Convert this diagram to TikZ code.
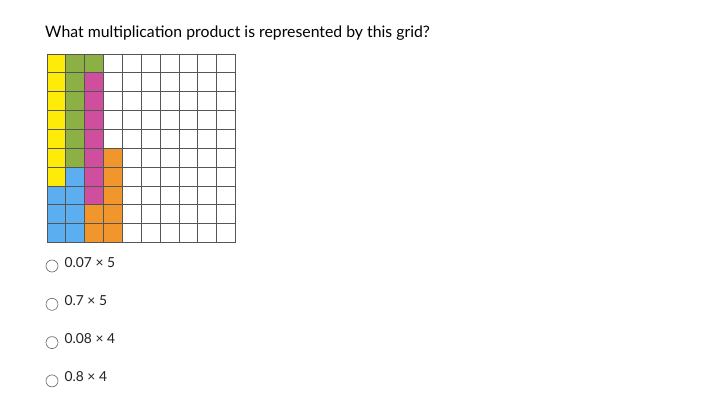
\documentclass[tikz,border=0pt]{standalone}
\usepackage{fontspec}
\setmainfont{Lato}
\definecolor{yel}{HTML}{FFEB0A}
\definecolor{grn}{HTML}{8CB043}
\definecolor{mag}{HTML}{CF4E9E}
\definecolor{blu}{HTML}{5BAEF0}
\definecolor{org}{HTML}{F0962C}
\definecolor{gridc}{HTML}{555555}
\definecolor{txt}{HTML}{222222}
\tikzset{
  cellbox/.style={draw=gridc, line width=0.9pt},
  radio/.style={circle, draw=gray!80!black, line width=0.6pt, minimum size=12pt, inner sep=0pt},
  opt/.style={anchor=base west, inner sep=0pt, text=txt, font=\fontsize{13.8}{16}\selectfont},
}
\begin{document}
\begin{tikzpicture}[x=1pt,y=-1pt]
\useasboundingbox[fill=white] (0,0) rectangle (713,412);
\node[anchor=base west, inner sep=0pt, text=black, font=\fontsize{15.8}{18}\selectfont] (title) at (45,37.5) {What multiplication product is represented by this grid?};
\def\cs{18.85}
\def\gx{47}
\def\gy{54}
% colored cells: col, row, color
\foreach \c/\r/\col in {
 0/0/yel,0/1/yel,0/2/yel,0/3/yel,0/4/yel,0/5/yel,0/6/yel,0/7/blu,0/8/blu,0/9/blu,
 1/0/grn,1/1/grn,1/2/grn,1/3/grn,1/4/grn,1/5/grn,1/6/blu,1/7/blu,1/8/blu,1/9/blu,
 2/0/grn,2/1/mag,2/2/mag,2/3/mag,2/4/mag,2/5/mag,2/6/mag,2/7/mag,2/8/org,2/9/org,
 3/5/org,3/6/org,3/7/org,3/8/org,3/9/org}
 { \fill[\col] (\gx+\c*\cs,\gy+\r*\cs) rectangle ++(\cs,\cs); }
\foreach \i in {0,...,10} {
  \draw[gridc, line width=0.9pt] (\gx+\i*\cs,\gy) -- (\gx+\i*\cs,\gy+10*\cs);
  \draw[gridc, line width=0.9pt] (\gx,\gy+\i*\cs) -- (\gx+10*\cs,\gy+\i*\cs);
}
\foreach \k/\t [count=\n from 0] in {a/{0.07 × 5},b/{0.7 × 5},c/{0.08 × 4},d/{0.8 × 4}} {
  \node[radio] (r\k) at (52,266+\n*38.3) {};
  \node[opt] (o\k) at (64.5,267+\n*38.3) {\t};
}
\end{tikzpicture}
\end{document}
